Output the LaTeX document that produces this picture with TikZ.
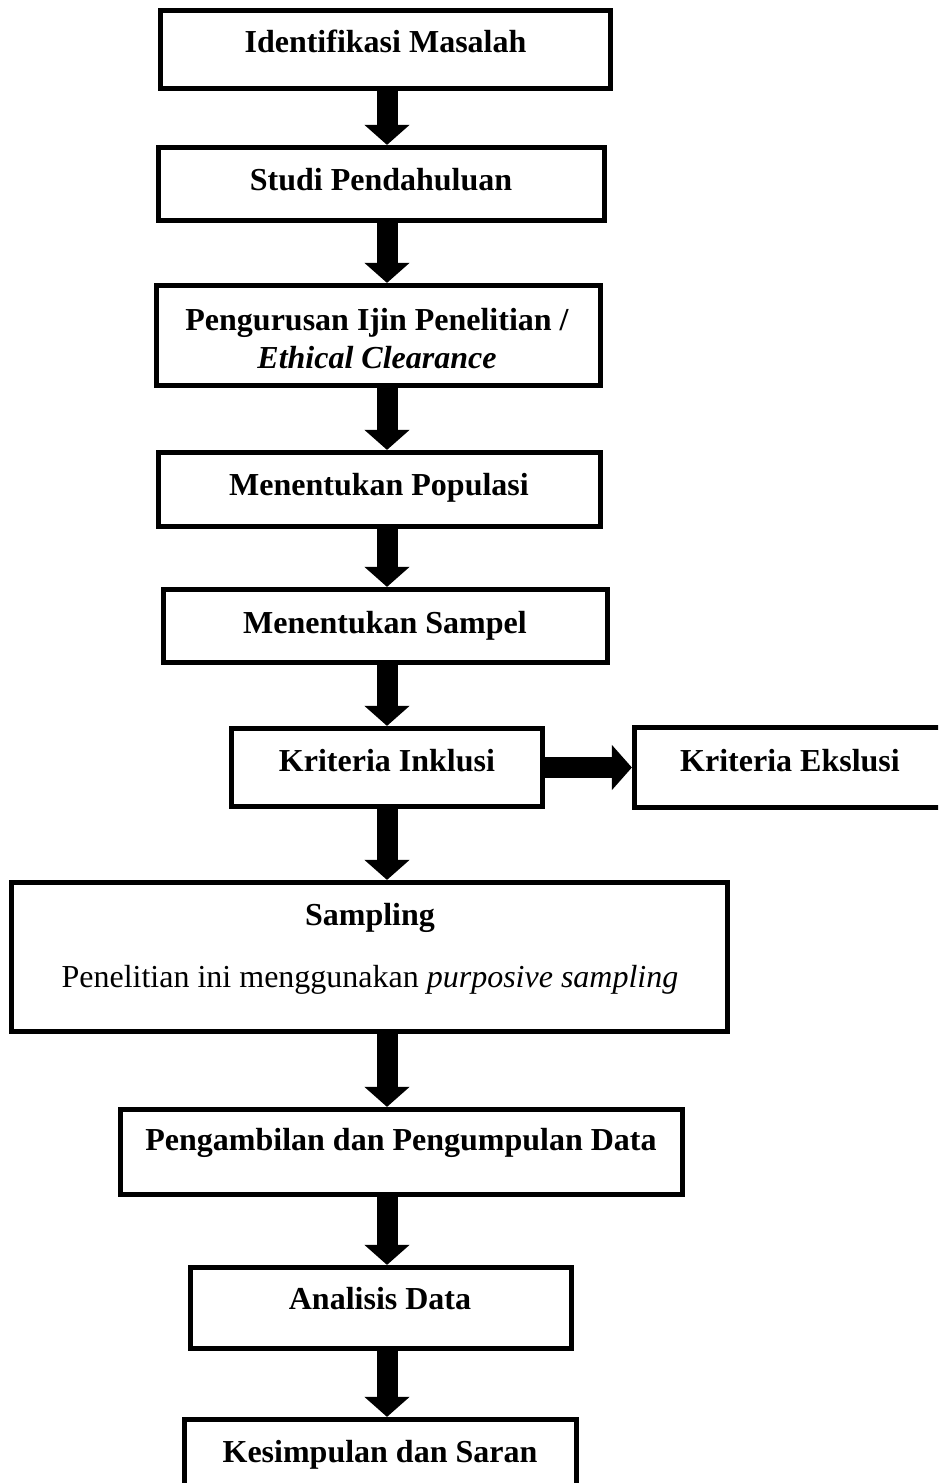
\documentclass[tikz,border=0pt]{standalone}
\usepackage{fontspec}
\setmainfont{Liberation Serif}
\usetikzlibrary{arrows.meta}
\tikzset{
  box/.style={draw=black, line width=2.6pt, fill=white, rectangle, inner sep=0pt},
  txt/.style={inner sep=0pt, font=\fontsize{16}{19}\selectfont\bfseries, anchor=base},
  bodytxt/.style={inner sep=0pt, font=\fontsize{16}{19}\selectfont, anchor=base},
  blockarrow/.style={line width=10.5pt, -{Triangle[width=22pt,length=10pt]}}
}
\begin{document}
\begin{tikzpicture}[x=0.5pt,y=-0.5pt]
\path[use as bounding box] (0,0) rectangle (938,1483);
\clip (0,0) rectangle (938,1483);
\coordinate (col) at (387,0);
% boxes
\node[box, minimum width=225pt, minimum height=39pt] (b1) at (385.5,49.5) {};
\node[box, minimum width=223pt, minimum height=36.5pt] (b2) at (381.5,184) {};
\node[box, minimum width=222pt, minimum height=50pt] (b3) at (378.5,335.5) {};
\node[box, minimum width=221pt, minimum height=37pt] (b4) at (379.5,489.5) {};
\node[box, minimum width=222pt, minimum height=36.5pt] (b5) at (385.5,626) {};
\node[box, minimum width=155.5pt, minimum height=39pt] (b6) at (387,767.5) {};
\node[box, minimum width=155.5pt, minimum height=40pt] (b7) at (790,767.5) {};
\node[box, minimum width=358pt, minimum height=74.5pt] (b8) at (369.5,957) {};
\node[box, minimum width=281pt, minimum height=42.5pt] (b9) at (401.5,1152) {};
\node[box, minimum width=190.5pt, minimum height=40.5pt] (b10) at (381,1308) {};
\node[box, minimum width=196pt, minimum height=59pt] (b11) at (380.5,1478.5) {};
% texts
\node[txt] (t1) at (385.5,53) {Identifikasi Masalah};
\node[txt] (t2) at (381,190) {Studi Pendahuluan};
\node[txt] (t3a) at (377,330) {Pengurusan Ijin Penelitian /};
\node[txt] (t3b) at (377,368) {\itshape Ethical Clearance};
\node[txt] (t4) at (379,495) {Menentukan Populasi};
\node[txt] (t5) at (385,633) {Menentukan Sampel};
\node[txt] (t6) at (387,771) {Kriteria Inklusi};
\node[txt] (t7) at (790,771) {Kriteria Ekslusi};
\node[txt] (t8a) at (370,925) {Sampling};
\node[bodytxt] (t8b) at (370,987) {Penelitian ini menggunakan \textit{purposive sampling}};
\node[txt] (t9) at (401,1150) {Pengambilan dan Pengumpulan Data};
\node[txt] (t10) at (380,1309) {Analisis Data};
\node[txt] (t11) at (380,1462) {Kesimpulan dan Saran};
% arrows
\draw[blockarrow] (b1.south -| col) -- (b2.north -| col);
\draw[blockarrow] (b2.south -| col) -- (b3.north -| col);
\draw[blockarrow] (b3.south -| col) -- (b4.north -| col);
\draw[blockarrow] (b4.south -| col) -- (b5.north -| col);
\draw[blockarrow] (b5.south -| col) -- (b6.north -| col);
\draw[blockarrow] (b6.east) -- (b7.west);
\draw[blockarrow] (b6.south -| col) -- (b8.north -| col);
\draw[blockarrow] (b8.south -| col) -- (b9.north -| col);
\draw[blockarrow] (b9.south -| col) -- (b10.north -| col);
\draw[blockarrow] (b10.south -| col) -- (b11.north -| col);
\end{tikzpicture}
\end{document}
